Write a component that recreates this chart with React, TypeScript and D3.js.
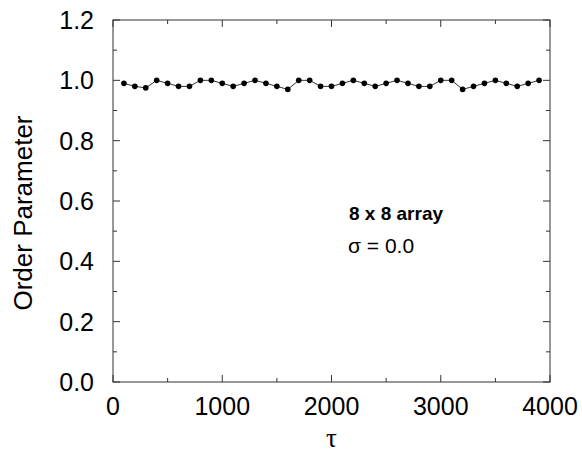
import React from "react";
import * as d3 from "d3";

const tau = [100,200,300,400,500,600,700,800,900,1000,1100,1200,1300,1400,1500,1600,1700,1800,1900,2000,2100,2200,2300,2400,2500,2600,2700,2800,2900,3000,3100,3200,3300,3400,3500,3600,3700,3800,3900];
const orderParam = [0.99,0.98,0.975,1.0,0.99,0.98,0.98,1.0,1.0,0.99,0.98,0.99,1.0,0.99,0.98,0.97,1.0,1.0,0.98,0.98,0.99,1.0,0.99,0.98,0.99,1.0,0.99,0.98,0.98,1.0,1.0,0.97,0.98,0.99,1.0,0.99,0.98,0.99,1.0];
const xTicks = [0,1000,2000,3000,4000];
const yTicks = [0.0,0.2,0.4,0.6,0.8,1.0,1.2];
const xMinor = [500,1500,2500,3500];
const yMinor = [0.1,0.3,0.5,0.7,0.9,1.1];

export default function App() {
  const L = 113, R = 550, T = 20, B = 382;
  const x = d3.scaleLinear().domain([0, 4000]).range([L, R]);
  const y = d3.scaleLinear().domain([0, 1.2]).range([B, T]);
  const line = d3.line<number>().x((_, i) => x(tau[i])).y((d) => y(d));
  const axisColor = "#333";
  const font = "'Liberation Sans', Arial, Helvetica, sans-serif";
  return (
    <svg width={582} height={456} style={{ position: "absolute", left: 0, top: 0, background: "#fff" }}>
      <rect x={L} y={T} width={R - L} height={B - T} fill="none" stroke={axisColor} strokeWidth={1} />
      {xTicks.map((t) => (
        <g key={"xt" + t}>
          <line x1={x(t)} x2={x(t)} y1={B} y2={B - 7} stroke={axisColor} />
          <line x1={x(t)} x2={x(t)} y1={T} y2={T + 7} stroke={axisColor} />
          <text x={x(t)} y={415} textAnchor="middle" fontFamily={font} fontSize={25} fill="#000">{t}</text>
        </g>
      ))}
      {xMinor.map((t) => (
        <g key={"xm" + t}>
          <line x1={x(t)} x2={x(t)} y1={B} y2={B - 4} stroke={axisColor} />
          <line x1={x(t)} x2={x(t)} y1={T} y2={T + 4} stroke={axisColor} />
        </g>
      ))}
      {yTicks.map((t) => (
        <g key={"yt" + t}>
          <line x1={L} x2={L + 7} y1={y(t)} y2={y(t)} stroke={axisColor} />
          <line x1={R} x2={R - 7} y1={y(t)} y2={y(t)} stroke={axisColor} />
          <text x={94} y={y(t) + 9} textAnchor="end" fontFamily={font} fontSize={25} fill="#000">{t.toFixed(1)}</text>
        </g>
      ))}
      {yMinor.map((t) => (
        <g key={"ym" + t}>
          <line x1={L} x2={L + 4} y1={y(t)} y2={y(t)} stroke={axisColor} />
          <line x1={R} x2={R - 4} y1={y(t)} y2={y(t)} stroke={axisColor} />
        </g>
      ))}
      <path d={line(orderParam) || ""} fill="none" stroke="#000" strokeWidth={0.8} />
      {orderParam.map((v, i) => (
        <circle key={"p" + i} cx={x(tau[i])} cy={y(v)} r={2.8} fill="#000" />
      ))}
      <text x={349} y={220} fontFamily={font} fontSize={19} fontWeight="bold" fill="#000">8 x 8 array</text>
      <text x={348} y={253} fontFamily={font} fontSize={21} fill="#000">σ = 0.0</text>
      <text transform={`translate(32, ${(T + B) / 2 + 12}) rotate(-90)`} textAnchor="middle" fontFamily={font} fontSize={26} fill="#000">Order Parameter</text>
      <text x={(L + R) / 2} y={447} textAnchor="middle" fontFamily="'Liberation Serif', 'DejaVu Serif', serif" fontSize={27} fill="#000">τ</text>
    </svg>
  );
}
